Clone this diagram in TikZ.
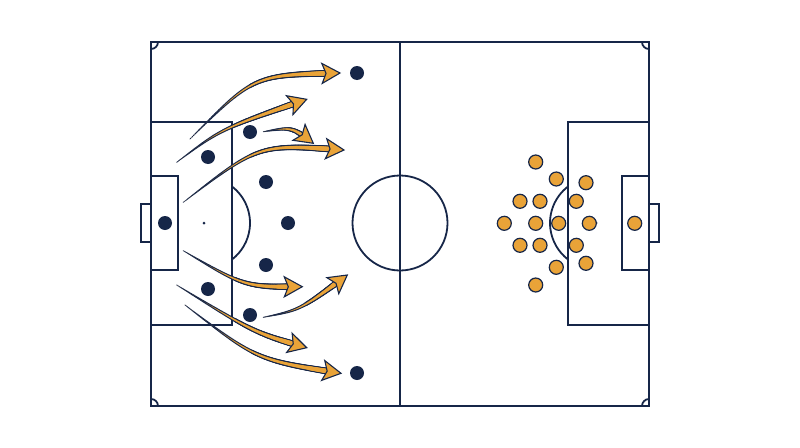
\documentclass[tikz,border=0pt]{standalone}
\usepackage{tikz}
\usetikzlibrary{decorations.markings}
\definecolor{pitchnavy}{RGB}{22,38,72}
\definecolor{runorange}{RGB}{233,163,56}
\newcommand{\sizeplayer}{14pt}
\tikzset{
    line/.style={draw=pitchnavy, line width=1.8pt},
    player/.style={circle, inner sep=0pt, minimum size=\sizeplayer},
    home/.style={player, fill=pitchnavy},
    away/.style={player, fill=runorange, draw=pitchnavy, line width=1.2pt},
    runedge/.style={
        decoration={markings,
            mark=between positions 0 and -14pt step 0.6pt with {
                \pgfmathsetmacro\runr{0.5+3.2*\pgfkeysvalueof{/pgf/decoration/mark info/distance from start}/\pgfdecoratedpathlength}
                \fill[pitchnavy] (0pt,0pt) circle[radius=\runr pt];
            }
        }, decorate
    },
    runfill/.style={
        decoration={markings,
            mark=between positions 0 and -14pt step 0.6pt with {
                \pgfmathsetmacro\runr{max(0.05,-0.6+3.2*\pgfkeysvalueof{/pgf/decoration/mark info/distance from start}/\pgfdecoratedpathlength)}
                \fill[runorange] (0pt,0pt) circle[radius=\runr pt];
            }
        }, decorate
    },
    runtip/.style={
        decoration={markings,
            mark=at position 1 with {
                \filldraw[fill=runorange, draw=pitchnavy, line width=1.1pt, line join=miter]
                    (0pt,0pt) -- (-18pt,10pt) -- (-14pt,0pt) -- (-18pt,-10pt) -- cycle;
            }
        }, decorate
    }
}
\newcommand{\run}[3]{
    \path[runedge] (#1) .. controls (#2) .. (#3);
    \path[runfill] (#1) .. controls (#2) .. (#3);
    \path[runtip] (#1) .. controls (#2) .. (#3);
}

\begin{document}
\begin{tikzpicture}[x=1pt, y=-1pt]
    \useasboundingbox (0,0) rectangle (800,447);

    % pitch
    \draw[line] (151,42) rectangle (649,406);
    \draw[line] (400,42) -- (400,406);
    \draw[line] (400,223) circle[radius=47.5];
    \draw[line] (151,122) rectangle (232,325);
    \draw[line] (649,122) rectangle (568,325);
    \draw[line] (151,176) rectangle (178,270);
    \draw[line] (649,176) rectangle (622,270);
    \draw[line] (151,204) -- (141,204) -- (141,242) -- (151,242);
    \draw[line] (649,204) -- (659,204) -- (659,242) -- (649,242);
    \draw[line] (232,186.5) arc[start angle=-52.5, end angle=52.5, radius=46];
    \draw[line] (568,186.5) arc[start angle=232.5, end angle=127.5, radius=46];
    \fill[pitchnavy] (204,223) circle[radius=1.5];
    \fill[pitchnavy] (596,223) circle[radius=1.5];
    % corners
    \draw[line] (158,42) arc[start angle=0, end angle=90, radius=7];
    \draw[line] (642,42) arc[start angle=180, end angle=90, radius=7];
    \draw[line] (158,406) arc[start angle=0, end angle=-90, radius=7];
    \draw[line] (642,406) arc[start angle=180, end angle=270, radius=7];

    % home side
    \node[home] (h0) at (165,223) {};
    \node[home] (h1) at (208,157) {};
    \node[home] (h2) at (250,132) {};
    \node[home] (h3) at (266,182) {};
    \node[home] (h4) at (288,223) {};
    \node[home] (h5) at (266,265) {};
    \node[home] (h6) at (208,289) {};
    \node[home] (h7) at (250,315) {};
    \node[home] (h8) at (357,73) {};
    \node[home] (h9) at (357,373) {};

    % away side
    \foreach \px/\py [count=\i] in {535.7/162, 556.3/179, 586/182.7, 520/201.3, 540/201.3,
        576.3/201.3, 504.3/223.3, 535.7/223.3, 558.7/223.3, 589.3/223.3, 634.7/223.3,
        520/245.3, 540/245.3, 576.3/245.3, 556.3/267.3, 586/263.3, 535.7/285}
        \node[away] (a\i) at (\px,\py) {};

    % runs
    \foreach \tx/\ty/\cx/\cy/\hx/\hy [count=\i] in {
        190/139/254/75/340/73,
        176.7/162.3/221.5/128.7/306.7/99.3,
        263.3/131.7/292/127/313.3/143.3,
        183.3/202.3/259/144/344/150,
        183.3/250.7/245/287/302.3/286.7,
        263.3/317.3/300/310/347.3/275,
        176.7/285/255/333/306.7/347.7,
        185/305/257/360/341/373.3}
    {
        \coordinate (rs\i) at (\tx,\ty);
        \coordinate (rc\i) at (\cx,\cy);
        \coordinate (re\i) at (\hx,\hy);
        \run{rs\i}{rc\i}{re\i}
    }
\end{tikzpicture}
\end{document}
